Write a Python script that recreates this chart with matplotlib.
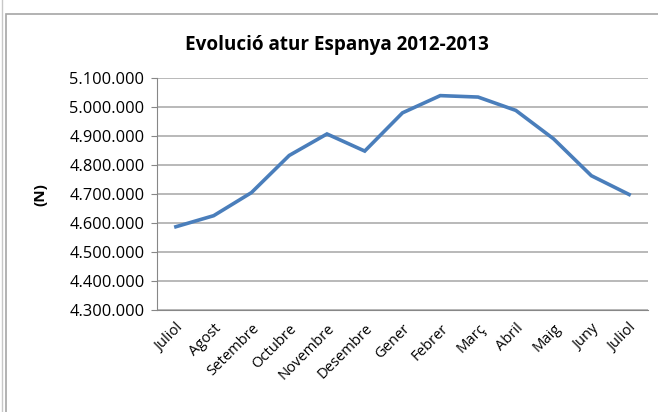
import matplotlib.pyplot as plt
import matplotlib.ticker as mticker
from matplotlib.patches import Rectangle
from matplotlib.lines import Line2D

plt.rcParams['font.family'] = ['Open Sans', 'DejaVu Sans']

months = ['Juliol', 'Agost', 'Setembre', 'Octubre', 'Novembre', 'Desembre',
          'Gener', 'Febrer', 'Març', 'Abril', 'Maig', 'Juny', 'Juliol']
atur = [4587455, 4625634, 4705279, 4833521, 4907817, 4848723,
        4980778, 5040222, 5035243, 4989193, 4890928, 4763680, 4698814]

W, H = 658, 412
fig = plt.figure(figsize=(W / 100, H / 100), dpi=100)

# chart frame like the excel chart area
fig.patches.append(Rectangle((6 / W, -0.1), 1.1, 1 - 14 / H + 0.1, transform=fig.transFigure,
                             fill=False, edgecolor='#a6a6a6', linewidth=1.2))
fig.lines.append(Line2D([1.5 / W, 1.5 / W], [0, 1], transform=fig.transFigure,
                        color='#c8c8c8', linewidth=1))

ax = fig.add_axes([157 / W, 1 - 310 / H, (648 - 157) / W, (310 - 78.3) / H])

x = range(len(months))
ax.plot(x, atur, color='#4a7ebb', linewidth=2.6, solid_joinstyle='miter')

ax.set_xlim(-0.5, len(months) - 0.5)
ax.set_ylim(4300000, 5100000)
ax.yaxis.set_major_locator(mticker.MultipleLocator(100000))
ax.yaxis.set_major_formatter(mticker.FuncFormatter(lambda v, p: f'{int(v):,}'.replace(',', '.')))
ax.grid(axis='y', color='#a6a6a6', linewidth=1.1)
ax.set_axisbelow(True)

ax.set_xticks(list(x))
ax.set_xticklabels(months, rotation=45, ha='right', rotation_mode='anchor', fontsize=10.6)
ax.tick_params(axis='x', length=0, pad=8)
ax.tick_params(axis='y', length=4, color='#878787', labelsize=11.8, pad=5)

for s in ['top', 'right']:
    ax.spines[s].set_visible(False)
for s in ['left', 'bottom']:
    ax.spines[s].set_color('#878787')

ax.set_ylabel('(N)', fontweight='bold', fontsize=11, labelpad=16)
fig.text(337 / W, 1 - 45 / H, 'Evolució atur Espanya 2012-2013', ha='center', va='center',
         fontsize=13.6, fontweight='bold')

fig.savefig('out.png', dpi=100)
